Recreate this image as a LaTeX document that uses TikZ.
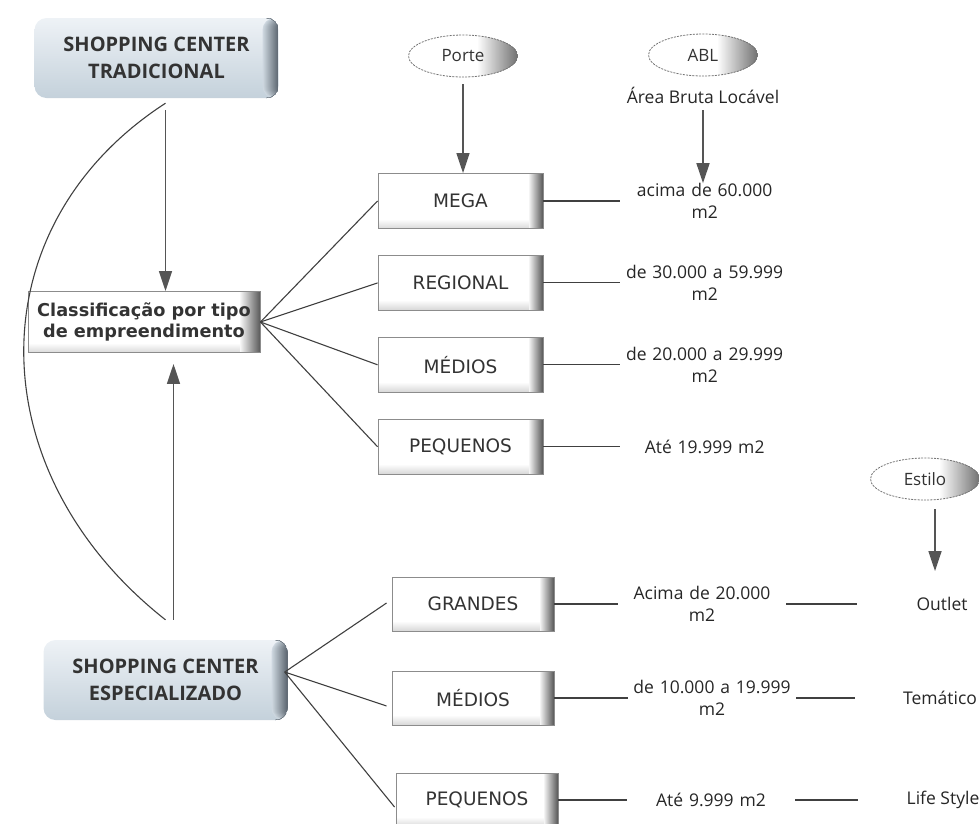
\documentclass[tikz,border=0pt]{standalone}
\usepackage{fontspec}
\setmainfont{Open Sans}
\newfontfamily\verd{DejaVu Sans}
\usetikzlibrary{
  arrows.meta,
  calc,
  positioning,
  shapes.geometric
}
\definecolor{ScTop}{RGB}{238,242,246}
\definecolor{ScBot}{RGB}{196,209,219}
\definecolor{ScMid}{RGB}{214,224,232}
\definecolor{ScEdge}{RGB}{95,105,115}
\definecolor{InkGray}{RGB}{64,64,64}
\definecolor{ArrGray}{RGB}{85,85,85}
\definecolor{BoxEdge}{RGB}{97,97,97}
\definecolor{BoxBot}{RGB}{219,219,219}
\definecolor{OvalEdge}{RGB}{115,115,115}
% stepped fades inside a path picture: width, base colour, edge colour
\newcommand\edgefade[3]{%
  \foreach \k in {#1,...,1}{%
    \pgfmathsetmacro\fadeLvl{100*(#1+1-\k)/#1}%
    \fill[#3!\fadeLvl!#2] ([xshift=-\k*1pt]path picture bounding box.north east)
      rectangle (path picture bounding box.south east);}}
\newcommand\bottomfade[3]{%
  \foreach \k in {#1,...,1}{%
    \pgfmathsetmacro\fadeLvl{100*(#1+1-\k)/#1}%
    \fill[#3!\fadeLvl!#2] ([yshift=\k*1pt]path picture bounding box.south west)
      rectangle (path picture bounding box.south east);}}

\begin{document}
\begin{tikzpicture}[
  x=1pt, y=-1pt,
  font=\fontsize{17.5}{22}\selectfont,
  text=black!85,
  node distance=26pt and 77pt,
  scbox/.style={rounded corners=12pt, top color=ScTop, bottom color=ScBot, align=center,
                minimum width=244pt, minimum height=80pt, text=black!80,
                font=\bfseries\fontsize{20}{27}\selectfont,
                path picture={\edgefade{16}{ScMid}{ScEdge}}},
  pbox/.style={draw=black!45, line width=0.9pt, fill=white, minimum width=165pt,
               minimum height=55pt, text=black!80, font=\verd\fontsize{18.5}{22}\selectfont,
               path picture={\bottomfade{9}{white}{BoxBot}\edgefade{14}{white}{BoxEdge}}},
  classbox/.style={pbox, align=center, minimum width=232pt, minimum height=61pt,
                   font=\verd\bfseries\fontsize{17.7}{21}\selectfont,
                   path picture={\bottomfade{9}{white}{BoxBot}\edgefade{20}{white}{BoxEdge}}},
  oval/.style={ellipse, draw=black!55, dash pattern=on 2pt off 1.2pt, line width=0.8pt,
               fill=white, minimum width=109pt, minimum height=42pt, inner sep=0pt,
               text=black!80, font=\fontsize{17}{20}\selectfont,
               path picture={\edgefade{40}{white}{OvalEdge}}},
  val/.style={align=center, text width=168pt, inner sep=0pt},
  sty/.style={minimum width=170pt, inner sep=0pt},
  link/.style={draw=InkGray, line width=1.1pt},
  arw/.style={draw=ArrGray, line width=1.6pt, -{Triangle[length=20pt,width=13pt]}},
]
  \useasboundingbox (0,0) rectangle (979,823);

  % main blocks
  \node[scbox] (tradicional) at (156.5,58) {SHOPPING CENTER\\TRADICIONAL};
  \node[classbox] (classif) at (144,322) {Classificação por tipo\\de empreendimento};
  \node[scbox] (especial) at (165.5,680) {SHOPPING CENTER\\ESPECIALIZADO};

  \draw[link] ($(tradicional.south)+(9,5)$) .. controls +(-190,123) and +(-188,-148)
    .. ($(especial.north)+(0,-20)$);
  \draw[arw] ($(tradicional.south)+(9,12)$) coordinate (tIn) -- (tIn |- classif.north);
  \draw[arw, shorten >=11pt] ($(especial.north)+(8,-20)$) coordinate (eOut) -- (eOut |- classif.south);

  % porte / ABL
  \node[oval] (porte) at (463,56) {Porte};
  \node[oval] (abl) at (703,55) {ABL};
  \node[inner sep=0pt] (area) at (703,95) {Área Bruta Locável};

  \node[pbox] (mega) at (460.5,201) {MEGA};
  \node[pbox, below=of mega] (regional) {REGIONAL};
  \node[pbox, below=of regional] (medios) {MÉDIOS};
  \node[pbox, below=of medios] (pequenos) {PEQUENOS};

  \node[val, right=of mega] (v60) {acima de 60.000\\m2};
  \node[val, right=of regional] (v30) {de 30.000 a 59.999\\m2};
  \node[val, right=of medios] (v20) {de 20.000 a 29.999\\m2};
  \node[val, right=of pequenos] (v19) {Até 19.999 m2};

  \draw[arw] ($(porte.south)+(0,7)$) coordinate (pIn) -- (pIn |- mega.north);
  \draw[arw] ($(area.south)+(0,7)$) coordinate (aIn) -- (aIn |- v60.north);

  \draw[link] (classif.east) -- (mega.west);
  \draw[link] (classif.east) -- (regional.west);
  \draw[link] (classif.east) -- (medios.west);
  \draw[link] (classif.east) -- (pequenos.west);

  \draw[link] (mega) -- (v60);
  \draw[link] (regional) -- (v30);
  \draw[link] (medios) -- (v20);
  \draw[link] (pequenos) -- (v19);

  % especializado
  \node[pbox, minimum width=162pt, minimum height=54pt] (grandes) at (473,604) {GRANDES};
  \node[pbox, minimum width=162pt, minimum height=54pt] (medios2) at (473,698) {MÉDIOS};
  \node[pbox, minimum width=162pt, minimum height=54pt] (pequenos2) at (477,800) {PEQUENOS};

  \node[val] (v20b) at (702,604) {Acima de 20.000\\m2};
  \node[val] (v10) at (712,698) {de 10.000 a 19.999\\m2};
  \node[val] (v9) at (711,800) {Até 9.999 m2};

  \node[oval] (estilo) at (925,479) {Estilo};
  \node[sty] (outlet) at (942,604) {Outlet};
  \node[sty] (tematico) at (940,698) {Temático};
  \node[sty] (lifestyle) at (943,800) {Life Style};

  \draw[arw, shorten >=26pt] ($(estilo.south)+(10,9)$) coordinate (sIn) -- (sIn |- outlet.north);

  \draw[link] ($(especial.east)+(-3,-8)$) -- ($(grandes.west)+(-5,-1)$);
  \draw[link] ($(especial.east)+(-3,-8)$) -- ($(medios2.west)+(-5,8)$);
  \draw[link] ($(especial.east)+(-3,-8)$) -- ($(pequenos2.west)+(-1,7)$);

  \draw[link] (grandes) -- (v20b);
  \draw[link] (medios2) -- (v10);
  \draw[link] (pequenos2) -- (v9);
  \draw[link] (v20b) -- (outlet);
  \draw[link] (v10) -- (tematico);
  \draw[link] (v9) -- (lifestyle);
\end{tikzpicture}
\end{document}
